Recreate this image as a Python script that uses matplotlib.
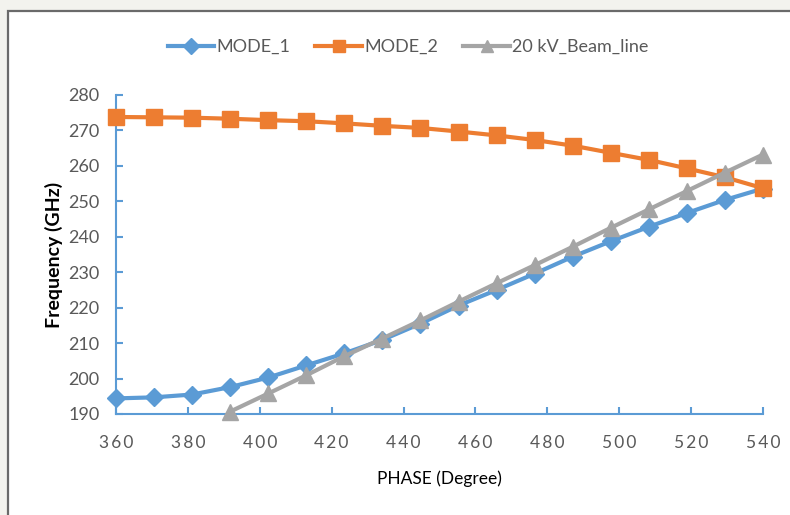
import matplotlib
matplotlib.use("Agg")
import matplotlib.pyplot as plt
from matplotlib.patches import Rectangle

phase = [360.0, 370.6, 381.2, 391.8, 402.4, 412.9, 423.5, 434.1, 444.7,
         455.3, 465.9, 476.5, 487.1, 497.6, 508.2, 518.8, 529.4, 540.0]
mode1 = [194.4, 194.7, 195.5, 197.6, 200.3, 203.7, 207.1, 210.9, 215.5,
         220.6, 225.0, 229.6, 234.4, 238.7, 242.8, 246.7, 250.4, 253.6]
mode2 = [273.8, 273.7, 273.6, 273.3, 272.9, 272.6, 272.0, 271.3, 270.7,
         269.7, 268.6, 267.3, 265.7, 263.7, 261.7, 259.3, 256.8, 253.7]
beam_phase = [391.8, 402.4, 412.9, 423.5, 434.1, 444.7, 455.3, 465.9,
              476.5, 487.1, 497.6, 508.2, 518.8, 529.4, 540.0]
beam = [190.7, 195.8, 200.9, 206.3, 211.3, 216.4, 221.7, 226.9,
        232.0, 237.2, 242.5, 247.7, 252.9, 258.1, 263.2]
series_names = ["MODE_1", "MODE_2", "20 kV_Beam_line"]
xticks = [360, 380, 400, 420, 440, 460, 480, 500, 520, 540]
yticks = [190, 200, 210, 220, 230, 240, 250, 260, 270, 280]

plt.rcParams['font.family'] = ['Lato', 'DejaVu Sans']

W, H = 790, 515
fig = plt.figure(figsize=(W / 100, H / 100), dpi=100, facecolor='#F3F3EE')
fig.patches.append(Rectangle((8 / W, -0.02), 1.05, (H - 11) / H + 0.02,
                             transform=fig.transFigure, facecolor='white',
                             edgecolor='#6A6A6A', linewidth=1.6, zorder=-10))

ax = fig.add_axes([116 / W, 1 - 414 / H, (763 - 116) / W, (414 - 95) / H])
ax.set_zorder(1)
ax.set_facecolor('none')

blue, orange, gray = '#5B9BD5', '#ED7D31', '#A5A5A5'
ax.plot(phase, mode1, color=blue, lw=3, marker='D', ms=9, label=series_names[0],
        clip_on=False, zorder=3)
ax.plot(phase, mode2, color=orange, lw=3, marker='s', ms=11, label=series_names[1],
        clip_on=False, zorder=3)
ax.plot(beam_phase, beam, color=gray, lw=3, marker='^', ms=11, label=series_names[2],
        clip_on=False, zorder=4)

ax.set_xlim(360, 540)
ax.set_ylim(190, 280)
ax.set_xticks(xticks)
ax.set_yticks(yticks)
ax.set_xticklabels(['\u2009'.join(str(v)) for v in xticks])
ax.set_yticklabels([str(v) for v in yticks])

for s in ['top', 'right']:
    ax.spines[s].set_visible(False)
for s in ['left', 'bottom']:
    ax.spines[s].set_color(blue)
    ax.spines[s].set_linewidth(1.5)
ax.tick_params(axis='both', direction='in', color=blue, width=1.5, length=5,
               labelcolor='#595959')
ax.tick_params(axis='y', labelsize=13, pad=12)
ax.tick_params(axis='x', labelsize=12.5, pad=15)

ax.set_xlabel('PHASE (Degree)', fontsize=12.5, color='black', labelpad=14)
ax.set_ylabel('Frequency (GHz)', fontsize=14, fontweight='bold', color='black',
              labelpad=4)

leg = fig.legend(loc='center', bbox_to_anchor=(408 / W, 1 - 47 / H), ncol=3,
                 frameon=False, fontsize=13, handlelength=2.6, handletextpad=0.1,
                 columnspacing=1.4, labelcolor='#595959')
for h in leg.legend_handles:
    h.set_markersize(8)

fig.savefig('out.png', dpi=100, facecolor=fig.get_facecolor())
